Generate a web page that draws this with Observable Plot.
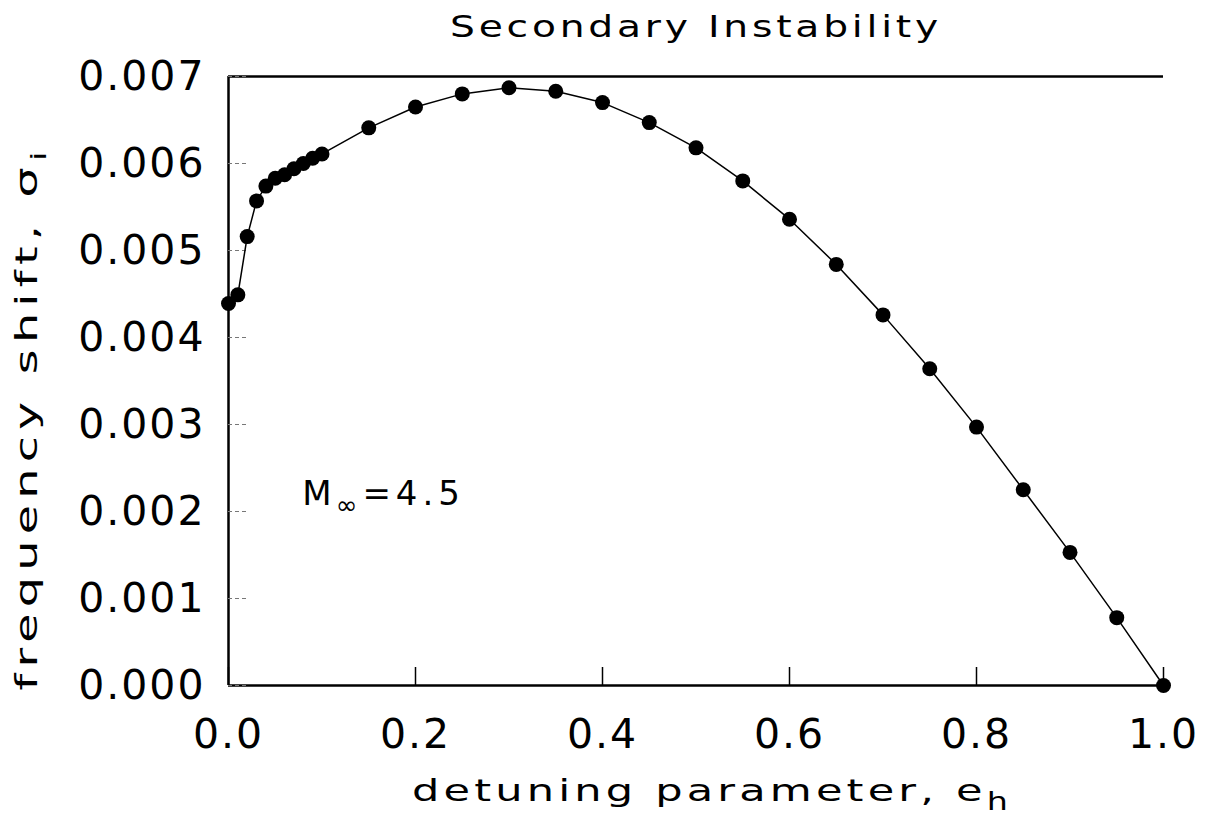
<!DOCTYPE html>
<html><head><meta charset="utf-8">
<script src="https://cdn.jsdelivr.net/npm/d3@7"></script>
<script src="https://cdn.jsdelivr.net/npm/@observablehq/plot@0.6"></script>
<style>body{margin:0;background:#fff}</style>
</head><body><div id="chart"></div>
<script>
// ---- data ----
const detuning = [0,0.01,0.02,0.03,0.04,0.05,0.06,0.07,0.08,0.09,0.10,0.15,0.20,0.25,0.30,0.35,0.40,0.45,0.50,0.55,0.60,0.65,0.70,0.75,0.80,0.85,0.90,0.95,1.00];
const freqShift = [0.00439,0.00449,0.00516,0.00557,0.00574,0.00583,0.00587,0.00594,0.00600,0.00606,0.00611,0.00641,0.00665,0.00680,0.00687,0.00683,0.00670,0.00647,0.00618,0.00580,0.00536,0.00484,0.00426,0.00364,0.00297,0.00225,0.00153,0.00078,0.00000];
const xTicks = [0,0.2,0.4,0.6,0.8,1.0];
const yTicks = [0,0.001,0.002,0.003,0.004,0.005,0.006,0.007];
const titleText = "Secondary Instability";
const xLabelMain = "detuning parameter, e", xLabelSub = "h";
const yLabelMain = "frequency shift, σ", yLabelSub = "i";
const annoMain = "M", annoSub = "∞", annoRest = "=4.5";
const annoPos = [{x: 0.079, y: 0.0022}];

const data = detuning.map((d, i) => ({x: d, y: freqShift[i]}));
const xDomain = [0, 1], yDomain = [0, 0.007];

const chart = Plot.plot({
  width: 1213, height: 827,
  marginLeft: 228, marginRight: 50, marginTop: 76, marginBottom: 142,
  style: {fontFamily: "DejaVu Sans", background: "white", color: "black"},
  x: {domain: xDomain},
  y: {domain: yDomain},
  marks: [
    // frame (left, bottom, top)
    Plot.ruleX([xDomain[0]], {strokeWidth: 2.5}),
    Plot.ruleY([yDomain[0]], {strokeWidth: 2.5}),
    Plot.ruleY([yDomain[1]], {strokeWidth: 2.5}),
    // inward ticks
    Plot.axisX(xTicks, {tickSize: 18, dy: -18, tickFormat: () => "", strokeWidth: 1.5, label: null}),
    Plot.axisY(yTicks, {tickSize: 18, dx: 18, tickFormat: () => "", stroke: "#777", strokeDasharray: "4,3", label: null}),
    // tick labels
    Plot.axisX(xTicks, {tickSize: 0, tickPadding: 33, fontSize: 41, tickFormat: d3.format(".1f"), label: null}),
    Plot.axisY(yTicks, {tickSize: 0, tickPadding: 23, fontSize: 41, tickFormat: d3.format(".3f"), label: null}),
    // data
    Plot.line(data, {x: "x", y: "y", stroke: "black", strokeWidth: 1.5}),
    Plot.dot(data, {x: "x", y: "y", r: 7.5, fill: "black", stroke: "none"}),
    // texts
    Plot.text([titleText], {frameAnchor: "top", dy: -62, fontSize: 31}),
    Plot.text([xLabelMain], {frameAnchor: "bottom", dy: 115, dx: 16, fontSize: 31}),
    Plot.text([yLabelMain], {frameAnchor: "left", textAnchor: "middle", rotate: -90, dx: -201, dy: 37, fontSize: 31}),
    Plot.text(annoPos, {x: "x", y: "y", text: () => annoMain + annoSub + annoRest, textAnchor: "start", fontSize: 34})
  ]
});

const svg = d3.select(chart);
svg.selectAll("text").each(function() {
  const t = d3.select(this);
  const s = this.textContent;
  if (s === titleText) {
    t.attr("letter-spacing", "3px");
    t.attr("textLength", 492).attr("lengthAdjust", "spacingAndGlyphs");
  } else if (s === xLabelMain) {
    t.attr("letter-spacing", "3px");
    t.append("tspan").attr("dy", 9).attr("font-size", 24).text(xLabelSub);
    t.attr("textLength", 600).attr("lengthAdjust", "spacingAndGlyphs");
  } else if (s === yLabelMain) {
    t.attr("letter-spacing", "4px");
    t.append("tspan").attr("dy", 9).attr("font-size", 22).text(yLabelSub);
    t.attr("textLength", 545).attr("lengthAdjust", "spacingAndGlyphs");
  } else if (s === annoMain + annoSub + annoRest) {
    t.text(null);
    t.append("tspan").text(annoMain);
    t.append("tspan").attr("dx", 4).attr("dy", 9).attr("font-size", 26).text(annoSub);
    t.append("tspan").attr("dx", 5).attr("dy", -9).attr("letter-spacing", "5px").text(annoRest);
  } else if (/^\d\.\d+$/.test(s)) {
    t.attr("letter-spacing", "2px");
  }
});
document.getElementById("chart").append(chart);
</script>
</body></html>
